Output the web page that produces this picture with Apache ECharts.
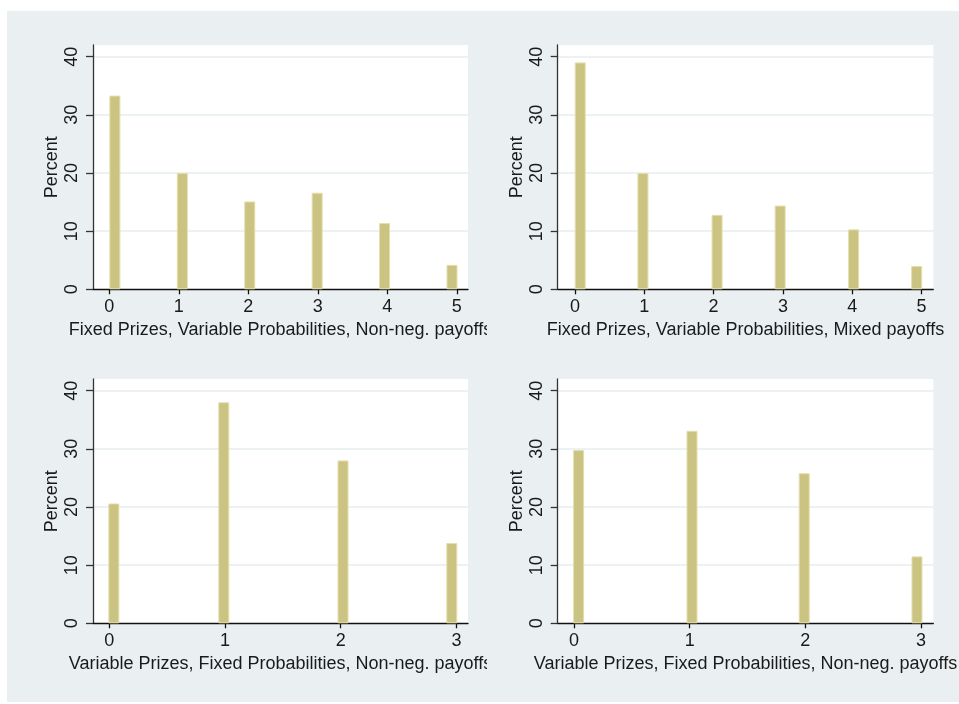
<!DOCTYPE html>
<html>
<head>
<meta charset="utf-8">
<script src="https://cdn.jsdelivr.net/npm/echarts@6/dist/echarts.min.js"></script>
<style>
  html, body { margin: 0; padding: 0; background: #ffffff; width: 959px; height: 704px; overflow: hidden; }
  #bg { position: absolute; left: 7px; top: 11px; width: 952px; height: 691px; background: #eaf0f2; }
  .clip { position: absolute; width: 476px; height: 346px; overflow: hidden; }
  .clip.left { width: 480px; }
  .chart { position: absolute; left: 0; top: 0; width: 640px; height: 346px; }
</style>
</head>
<body>
<div id="bg"></div>
<div class="clip left" style="left:7px;top:11px;"><div class="chart" id="p1"></div></div>
<div class="clip" style="left:483px;top:11px;"><div class="chart" id="p2"></div></div>
<div class="clip left" style="left:7px;top:357px;"><div class="chart" id="p3"></div></div>
<div class="clip" style="left:483px;top:357px;"><div class="chart" id="p4"></div></div>
<script>
// ---- Data ----
const yTicks = [0, 10, 20, 30, 40];

const xTicks1 = [0, 1, 2, 3, 4, 5];
const binPos1 = [0.08, 1.05, 2.02, 2.99, 3.96, 4.93];
const pct1 = [33.3, 20.0, 15.1, 16.6, 11.4, 4.2];
const title1 = 'Fixed Prizes, Variable Probabilities, Non-neg. payoffs';

const xTicks2 = [0, 1, 2, 3, 4, 5];
const binPos2 = [0.075, 0.98, 2.05, 2.96, 4.02, 4.93];
const pct2 = [39.0, 20.0, 12.8, 14.4, 10.3, 4.0];
const title2 = 'Fixed Prizes, Variable Probabilities, Mixed payoffs';

const xTicks3 = [0, 1, 2, 3];
const binPos3 = [0.04, 0.99, 2.02, 2.96];
const pct3 = [20.6, 38.0, 28.0, 13.8];
const title3 = 'Variable Prizes, Fixed Probabilities, Non-neg. payoffs';

const xTicks4 = [0, 1, 2, 3];
const binPos4 = [0.04, 1.02, 1.99, 2.965];
const pct4 = [29.8, 33.1, 25.8, 11.5];
const title4 = 'Variable Prizes, Fixed Probabilities, Non-neg. payoffs';

const yName = 'Percent';

// ---- Style ----
const FONT = '"Liberation Sans", Arial, Helvetica, sans-serif';
const BAR_FILL = '#cbc382';
const BAR_EDGE = '#e4deaa';

function makeOption(cfg) {
  return {
    animation: false,
    backgroundColor: 'transparent',
    grid: {
      left: cfg.gridLeft, top: cfg.gridTop, width: cfg.gridWidth, height: 244.3,
      show: true, backgroundColor: '#ffffff', borderWidth: 0
    },
    xAxis: {
      type: 'value',
      min: cfg.xMin, max: cfg.xMax,
      name: cfg.title,
      nameLocation: 'middle',
      nameGap: 32,
      nameMoveOverlap: false,
      nameTextStyle: { fontFamily: FONT, fontSize: 18, color: '#1a1a1a' },
      axisLine: { show: true, onZero: false, lineStyle: { color: '#111111', width: 1.3 } },
      axisTick: { show: true, length: 5, customValues: cfg.xTicks, lineStyle: { color: '#111111', width: 1.3 } },
      axisLabel: { show: true, customValues: cfg.xTicks, margin: 9, fontFamily: FONT, fontSize: 18, color: '#1a1a1a',
                   formatter: v => String(Math.round(v)) },
      splitLine: { show: false }
    },
    yAxis: {
      type: 'value',
      min: 0, max: 42,
      name: yName,
      nameLocation: 'middle',
      nameGap: 32,
      nameMoveOverlap: false,
      nameTextStyle: { fontFamily: FONT, fontSize: 18, color: '#1a1a1a' },
      axisLine: { show: true, onZero: false, lineStyle: { color: '#333333', width: 1.3 } },
      axisTick: { show: true, length: 7, customValues: yTicks, lineStyle: { color: '#333333', width: 1.3 } },
      axisLabel: { show: true, customValues: yTicks, rotate: 90, margin: 12, fontFamily: FONT, fontSize: 18, color: '#1a1a1a' },
      splitLine: { show: true, lineStyle: { color: '#e6eef0', width: 1.5 } }
    },
    series: [{
      type: 'bar',
      data: cfg.pos.map((x, i) => [x, cfg.vals[i]]),
      barWidth: 11,
      itemStyle: { color: BAR_FILL, borderColor: BAR_EDGE, borderWidth: 1 },
      emphasis: { disabled: true }
    }]
  };
}

const panels = [
  { id: 'p1', gridLeft: 86, gridTop: 34, gridWidth: 375, xMin: -0.235, xMax: 5.16, xTicks: xTicks1, pos: binPos1, vals: pct1, title: title1 },
  { id: 'p2', gridLeft: 74.7, gridTop: 34, gridWidth: 375.6, xMin: -0.25, xMax: 5.17, xTicks: xTicks2, pos: binPos2, vals: pct2, title: title2 },
  { id: 'p3', gridLeft: 86, gridTop: 22, gridWidth: 375, xMin: -0.14, xMax: 3.1, xTicks: xTicks3, pos: binPos3, vals: pct3, title: title3 },
  { id: 'p4', gridLeft: 74.7, gridTop: 22, gridWidth: 375.6, xMin: -0.141, xMax: 3.106, xTicks: xTicks4, pos: binPos4, vals: pct4, title: title4 }
];

panels.forEach(cfg => {
  const chart = echarts.init(document.getElementById(cfg.id), null, { renderer: 'canvas' });
  chart.setOption(makeOption(cfg));
});
</script>
</body>
</html>
